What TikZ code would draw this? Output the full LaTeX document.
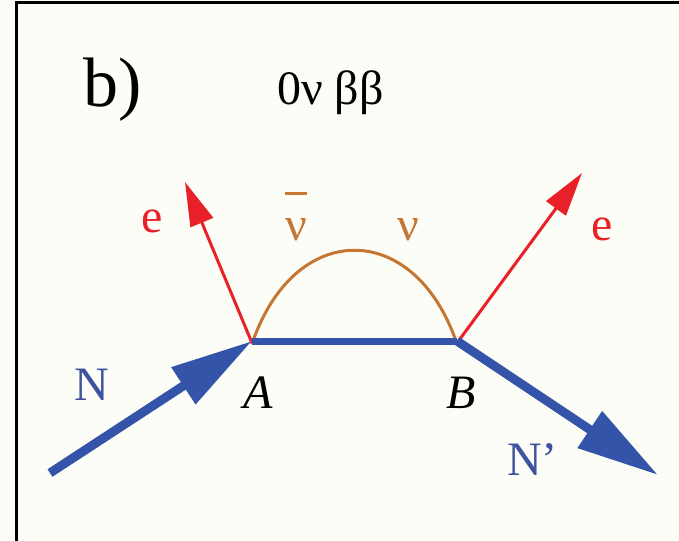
\documentclass[tikz,border=0pt]{standalone}
\usepackage{fontspec}
\setmainfont{LiberationSerif}[Extension=.ttf, UprightFont=*-Regular, ItalicFont=*-Italic, BoldFont=*-Bold]
\usetikzlibrary{arrows.meta}
\definecolor{bgcream}{RGB}{253,253,247}
\definecolor{nblue}{RGB}{52,84,170}
\definecolor{tblue}{RGB}{62,82,160}
\definecolor{ered}{RGB}{232,32,40}
\definecolor{nubrown}{RGB}{196,118,50}
\tikzset{
  lbl/.style={inner sep=0pt, font=\fontsize{48}{50}\selectfont},
  nucleon/.style={draw=nblue, line width=9pt, -{Triangle[length=82pt,width=42pt]}},
  internal/.style={draw=nblue, line width=7pt},
  electron/.style={draw=ered, line width=3pt, -{Triangle[length=44pt,width=24pt]}},
  neutrino/.style={draw=nubrown, line width=3pt},
  frame/.style={draw=black, line width=3pt}
}
\newcommand{\nubarsym}{\leavevmode\rlap{\raisebox{45pt}{\rule{22pt}{3pt}}}ν}
\begin{document}
\begin{tikzpicture}[x=1pt,y=-1pt]
  \fill[bgcream] (0,0) rectangle (679,540);
  \useasboundingbox (0,0) rectangle (679,540);
  \draw[frame] (16,541) -- (16,3) -- (680,3);
  % vertices
  \coordinate (A) at (252,341);
  \coordinate (B) at (457,341);
  \coordinate (Nin) at (50,473);
  \coordinate (Nout) at (658,475);
  \coordinate (eL) at (185,182);
  \coordinate (eR) at (582,173);
  % neutrino exchange
  \draw[neutrino] ([yshift=-3pt]A) .. controls ([shift={(42,-122)}]A) and ([shift={(-42,-122)}]B) .. ([yshift=-3pt]B);
  % electrons
  \draw[electron] ([yshift=-2pt]A) -- (eL);
  \draw[electron] ([yshift=-2pt]B) -- (eR);
  % nucleon line
  \draw[internal] (A) -- (B);
  \draw[nucleon] (Nin) -- (A);
  \draw[nucleon] (B) -- (Nout);
  % labels
  \node[inner sep=0pt, anchor=base west, font=\fontsize{70}{72}\selectfont] (blab) at (83,107) {b)};
  \node[lbl, anchor=base west] (title) at (277,105) {0ν ββ};
  \node[lbl, anchor=base, text=ered] (eLl) at (152,232) {e};
  \node[lbl, anchor=base, text=ered] (eRl) at (602,240) {e};
  \node[lbl, anchor=base, text=nubrown] (nubar) at (296,240) {\nubarsym};
  \node[lbl, anchor=base, text=nubrown] (nu) at (408,240) {ν};
  \node[lbl, anchor=base, text=tblue] (Nl) at (92,400) {N};
  \node[lbl, anchor=base] (Al) at (258,408) {\textit{A}};
  \node[lbl, anchor=base] (Bl) at (461,408) {\textit{B}};
  \node[lbl, anchor=base west, text=tblue] (Npl) at (507,475) {N’};
\end{tikzpicture}
\end{document}
